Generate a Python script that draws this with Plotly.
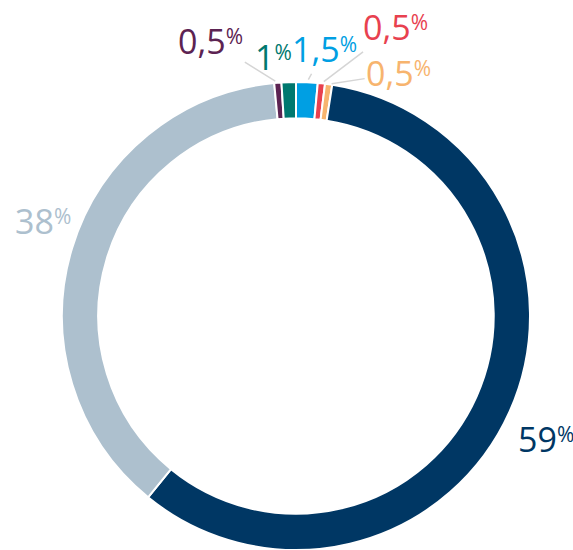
import math
import plotly.graph_objects as go

# ---- data ----
names = ["A", "B", "C", "D", "E", "F", "G"]
labels = ["1,5", "0,5", "0,5", "59", "38", "0,5", "1"]
values = [1.5, 0.5, 0.5, 59, 38, 0.5, 1]
colors = ["#009fe3", "#e8414f", "#f7b46e", "#003764", "#adc0ce", "#5c2352", "#00786f"]

# ---- style / layout ----
W, H = 573, 550
cx, cy, R = 296, 316, 234
hole = 0.845
# label offsets (pixels) relative to slice outer-mid point; arrow flag
offsets = [(18, -33, True), (74, -56, True), (70, -11, True),
           (6, 28, False), (-59, -27, False), (-67, -42, True), (-15, -25, True)]

fig = go.Figure(go.Pie(
    values=values, labels=names, sort=False, direction="clockwise", rotation=0,
    hole=hole, textinfo="none", hoverinfo="none",
    marker=dict(colors=colors, line=dict(color="white", width=2)),
    domain=dict(x=[(cx - R) / W, (cx + R) / W], y=[1 - (cy + R) / H, 1 - (cy - R) / H]),
    showlegend=False,
))

total = sum(values)
cum = 0.0
annotations = []
for lab, v, col, (dx, dy, arrow) in zip(labels, values, colors, offsets):
    mid = (cum + v / 2) / total * 2 * math.pi
    cum += v
    px = cx + R * math.sin(mid)
    py = cy - R * math.cos(mid)
    text = f"{lab}<span style='font-size:21px;baseline-shift:10px'>%</span>"
    a = dict(x=px / W, y=1 - py / H, xref="paper", yref="paper", text=text,
             font=dict(family="Open Sans", size=34, color=col))
    if arrow:
        a.update(showarrow=True, ax=dx, ay=dy, arrowhead=0, arrowwidth=1.5,
                 arrowcolor="#d5d5d5", standoff=3, xanchor="center", yanchor="middle")
    else:
        a.update(showarrow=False, xshift=dx, yshift=-dy, xanchor="left", yanchor="middle")
    annotations.append(a)

fig.update_layout(width=W, height=H, margin=dict(l=0, r=0, t=0, b=0),
                  paper_bgcolor="white", plot_bgcolor="white", annotations=annotations)
fig.write_html("out.html", config={"displayModeBar": False},
               post_script="document.body.style.margin='0';")
